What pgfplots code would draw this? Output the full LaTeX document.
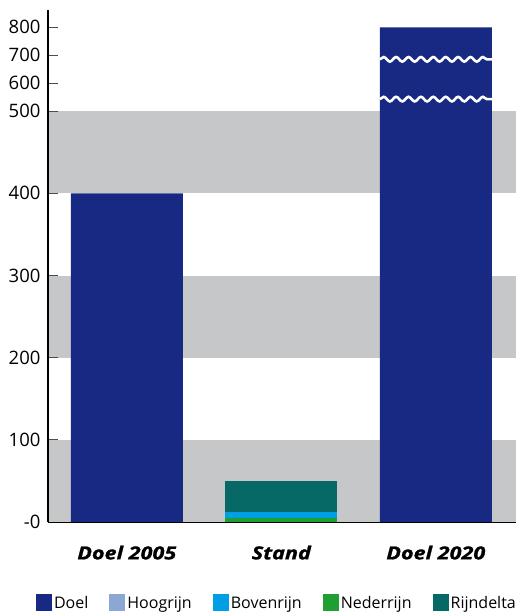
\documentclass[border=0pt]{standalone}
\usepackage{fontspec}
\setmainfont{Open Sans}
\newfontfamily\catfont{Open Sans}[FakeStretch=1.2, FakeBold=1.2]
\usepackage{pgfplots}
\pgfplotsset{compat=1.18}
\usetikzlibrary{decorations.pathmorphing}
\definecolor{doel}{HTML}{172983}
\definecolor{hoog}{HTML}{8BA8D4}
\definecolor{boven}{HTML}{009FE3}
\definecolor{neder}{HTML}{1F9E31}
\definecolor{delta}{HTML}{076966}
\definecolor{band}{HTML}{C6C7C8}
\begin{document}
\begin{tikzpicture}
\begin{axis}[
  scale only axis,
  width=468pt, height=512pt,
  xmin=-0.51, xmax=2.52,
  ymin=0, ymax=623,
  axis x line*=bottom, axis y line*=left,
  axis line style={line width=1.3pt, black},
  axis on top,
  ybar, bar width=112pt, bar shift=0pt,
  xtick={0,1,2},
  xticklabels={Doel 2005, Stand, Doel 2020},
  x tick style={draw=none},
  x tick label style={font=\catfont\fontsize{18}{21}\selectfont\bfseries\itshape, yshift=-20pt},
  extra x ticks={0.5,1.5,2.5},
  extra x tick labels={},
  extra x tick style={major tick length=16pt, tick style={draw=black!80, line width=1.3pt}},
  ytick={0,100,200,300,400,500,534,568,602},
  yticklabels={-0,100,200,300,400,500,600,700,800},
  y tick style={draw=black!70, line width=1pt},
  major tick length=10pt,
  tick align=inside,
  y tick label style={font=\fontsize{18.5}{22}\selectfont, xshift=-4pt},
  /pgf/number format/assume math mode=true,
  legend columns=5,
  legend style={draw=none, font=\fontsize{16}{19}\selectfont, at={(0.489,-0.158)}, anchor=center,
    /tikz/every even column/.append style={column sep=19pt}},
  legend image code/.code={\fill[#1] (0pt,-8pt) rectangle (16pt,9pt);},
  clip=false,
]
% background bands
\fill[band] (axis cs:-0.51,0) rectangle (axis cs:2.52,100);
\fill[band] (axis cs:-0.51,200) rectangle (axis cs:2.52,300);
\fill[band] (axis cs:-0.51,400) rectangle (axis cs:2.52,500);

% Doel bars (800 plotted on compressed scale above 500)
\addplot[fill=doel, draw=none, forget plot] coordinates {(0,400) (2,602)};
% Stand: cumulative tops, drawn largest first
\addplot[fill=delta, draw=none, forget plot] coordinates {(1,50.6)};  % Rijndelta 38
\addplot[fill=hoog, draw=none, forget plot] coordinates {(1,12.6)};   % Hoogrijn 0.6
\addplot[fill=boven, draw=none, forget plot] coordinates {(1,12)};    % Bovenrijn 7
\addplot[fill=neder, draw=none, forget plot] coordinates {(1,5)};     % Nederrijn 5

\draw[white, line width=2.6pt, decorate, decoration={snake, amplitude=2.3pt, segment length=12.4pt}]
  (axis cs:1.6375,514.6) -- (axis cs:2.3625,514.6);
\draw[white, line width=2.6pt, decorate, decoration={snake, amplitude=2.3pt, segment length=12.4pt}]
  (axis cs:1.6375,563) -- (axis cs:2.3625,563);

% whitespace around the chart as in the reference
\path (rel axis cs:0,1) ++(-48pt,10pt) coordinate (tl);
\path (rel axis cs:1,1) ++(9pt,10pt) coordinate (tr);
\path (tl) -- (tr);

\addlegendimage{fill=doel, draw=none}
\addlegendentry{Doel}
\addlegendimage{fill=hoog, draw=none}
\addlegendentry{Hoogrijn}
\addlegendimage{fill=boven, draw=none}
\addlegendentry{Bovenrijn}
\addlegendimage{fill=neder, draw=none}
\addlegendentry{Nederrijn}
\addlegendimage{fill=delta, draw=none}
\addlegendentry{Rijndelta}
\end{axis}
\end{tikzpicture}
\end{document}
